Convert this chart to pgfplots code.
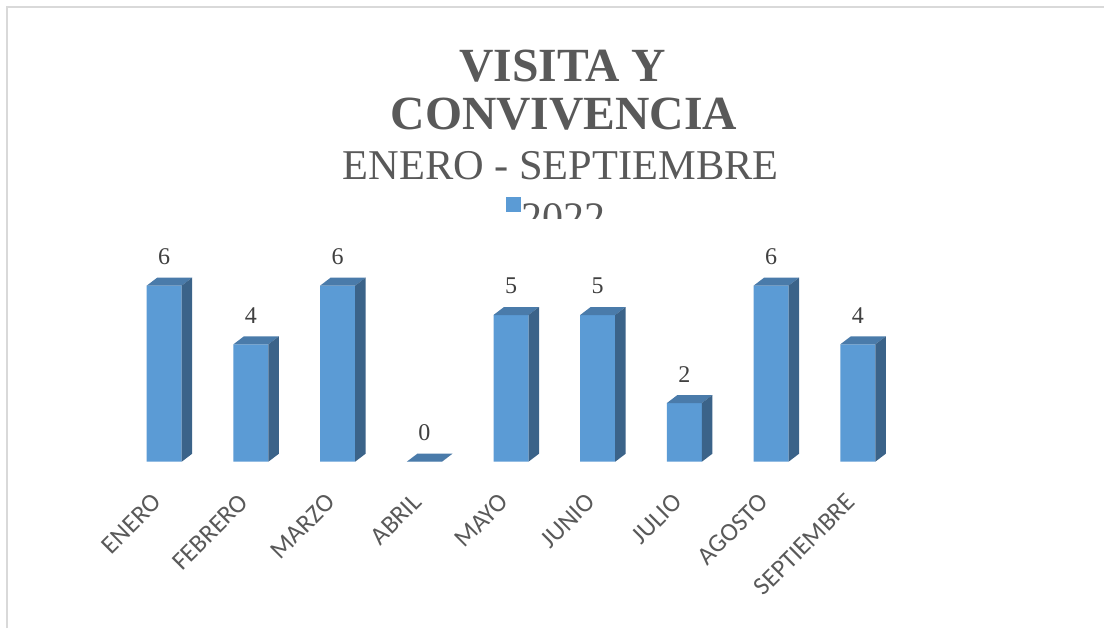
\documentclass[border=0pt]{standalone}
\usepackage{pgfplots}
\usepackage{pgfplotstable}
\pgfplotsset{compat=1.18}
\usepackage{fontspec}
\setmainfont{Liberation Serif}
\newfontfamily\carlito{Carlito}
\definecolor{frontc}{HTML}{5B9BD5}
\definecolor{topc}{HTML}{4A7BAA}
\definecolor{sidec}{HTML}{3B6389}
\definecolor{titlec}{HTML}{595959}
\definecolor{labc}{HTML}{404040}
\definecolor{framec}{HTML}{D9D9D9}

\pgfplotstableread{
x v
0 6
1 4
2 6
3 0
4 5
5 5
6 2
7 6
8 4
}\datos

\begin{document}
\begin{tikzpicture}
\useasboundingbox (0,0) rectangle (552pt,314pt);
\fill[white] (0,0) rectangle (552pt,314pt);
\draw[framec, line width=1pt] (3.5pt,0) -- (3.5pt,310.5pt) -- (552pt,310.5pt);
% titles
\node[anchor=base, text=titlec, font=\bfseries\fontsize{23.8}{26}\selectfont, inner sep=0pt] at (281.5pt,273.2pt) {VISITA Y};
\node[anchor=base, text=titlec, font=\bfseries\fontsize{23.8}{26}\selectfont, inner sep=0pt] at (282pt,249pt) {CONVIVENCIA};
\node[anchor=base, text=titlec, font=\fontsize{21.2}{24}\selectfont, inner sep=0pt] at (280.3pt,224pt) {ENERO - SEPTIEMBRE};
% legend (clipped as in the original)
\fill[frontc] (253pt,208pt) rectangle (260.5pt,215.5pt);
\begin{scope}
\clip (0,205pt) rectangle (552pt,314pt);
\node[anchor=base west, text=titlec, font=\fontsize{21}{24}\selectfont, inner sep=0pt] at (260.5pt,198.2pt) {2022};
\end{scope}
\begin{axis}[
  anchor=origin, at={(82.1pt,83.15pt)},
  x=43.35pt, y=14.67pt,
  xmin=-0.6, xmax=8.6, ymin=0, ymax=7,
  clip=false,
  axis line style={draw=none},
  tick style={draw=none},
  major tick length=0pt,
  ytick=\empty,
  xtick={0,...,8},
  xticklabels={ENERO,FEBRERO,MARZO,ABRIL,MAYO,JUNIO,JULIO,AGOSTO,SEPTIEMBRE},
  xticklabel shift=0pt,
  xticklabel style={font=\carlito\fontsize{12.8}{14}\selectfont, text=titlec, inner sep=0pt, xshift=-6.5pt, yshift=-15pt, rotate=45, anchor=north east},
  /pgf/number format/assume math mode=true,
]
\addplot[ybar, bar width=17.5pt, fill=frontc, draw=none,
  nodes near coords,
  every node near coord/.append style={font=\fontsize{12}{14}\selectfont, text=labc, anchor=south, inner sep=0pt, yshift=10.3pt}]
  table[x=x, y=v] {\datos};
\pgfplotsforeachungrouped \i in {0,...,8}{
  \pgfplotstablegetelem{\i}{v}\of\datos
  \let\vv=\pgfplotsretval
  \pgfmathsetmacro\xl{\i-0.2018}
  \pgfmathsetmacro\xr{\i+0.2018}
  \pgfmathsetmacro\xlb{\i-0.2018+0.1211}
  \pgfmathsetmacro\xrb{\i+0.2018+0.1211}
  \pgfmathsetmacro\vb{\vv+0.2727}
  \edef\tmp{\noexpand\addplot[fill=topc, draw=none, forget plot] coordinates {(\xl,\vv) (\xr,\vv) (\xrb,\vb) (\xlb,\vb)};
    \noexpand\addplot[fill=sidec, draw=none, forget plot] coordinates {(\xr,0) (\xrb,0.2727) (\xrb,\vb) (\xr,\vv)};}
  \tmp
}
\end{axis}
\end{tikzpicture}
\end{document}
